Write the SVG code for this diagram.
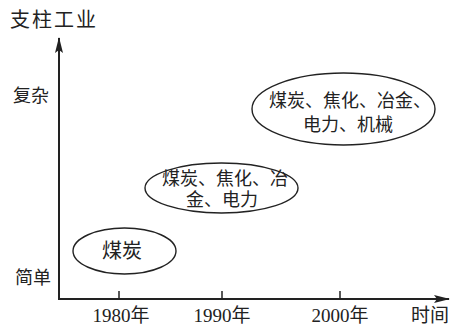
<svg xmlns="http://www.w3.org/2000/svg" width="453" height="325" viewBox="0 0 453 325">
<style>
text{font-family:"Liberation Serif","Noto Sans CJK SC",serif;fill:#222;}
.axis{stroke:#222;stroke-width:2;fill:none;}
.tick{stroke:#222;stroke-width:1.5;}
.node ellipse{fill:#fff;stroke:#222;stroke-width:1.4;}
.lbl{font-size:18px;text-anchor:middle;}
.yr{font-size:19px;text-anchor:middle;}
</style>
<defs>
<marker id="ah" markerWidth="16" markerHeight="8" refX="15" refY="4" orient="auto" markerUnits="userSpaceOnUse">
<path d="M0,0 L16,4 L0,8 L3,4 Z" fill="#222"/>
</marker>
</defs>
<rect width="453" height="325" fill="#fff"/>
<g id="connectors">
<line class="axis" x1="59" y1="299" x2="59" y2="38" marker-end="url(#ah)"/>
<line class="axis" x1="58" y1="299" x2="449" y2="299" marker-end="url(#ah)"/>
<line class="tick" x1="119" y1="299" x2="119" y2="291"/>
<line class="tick" x1="222" y1="299" x2="222" y2="291"/>
<line class="tick" x1="340" y1="299" x2="340" y2="291"/>
</g>
<g id="labels">
<text x="10" y="27" font-size="20" letter-spacing="2">支柱工业</text>
<text x="13" y="102" font-size="18">复杂</text>
<text x="15" y="284" font-size="18">简单</text>
<text class="yr" x="121" y="322">1980年</text>
<text class="yr" x="222" y="322">1990年</text>
<text class="yr" x="340" y="322">2000年</text>
<text class="yr" x="430" y="322">时间</text>
</g>
<g id="node1" class="node">
<ellipse cx="124.5" cy="251" rx="51.5" ry="23"/>
<text x="122" y="258" font-size="20" text-anchor="middle">煤炭</text>
</g>
<g id="node2" class="node">
<ellipse cx="221.5" cy="188" rx="76.5" ry="25"/>
<text class="lbl" x="225" y="185">煤炭、焦化、冶</text>
<text class="lbl" x="222" y="206">金、电力</text>
</g>
<g id="node3" class="node">
<ellipse cx="343.5" cy="109" rx="91.5" ry="36"/>
<text class="lbl" x="350" y="107">煤炭、焦化、冶金、</text>
<text class="lbl" x="348" y="131">电力、机械</text>
</g>
</svg>
